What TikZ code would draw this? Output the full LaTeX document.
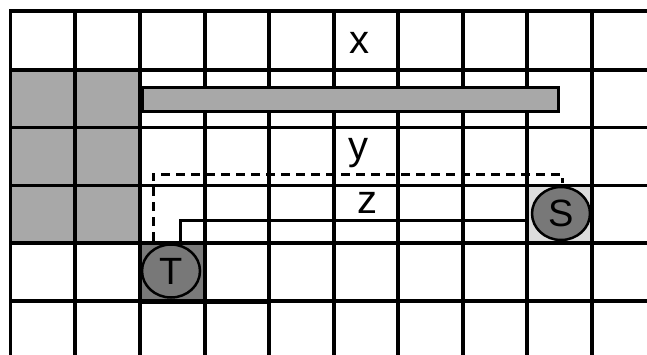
\documentclass[tikz,border=0pt]{standalone}
\usepackage{fontspec}
\setmainfont{Liberation Sans}
\usetikzlibrary{shapes.geometric}
\definecolor{wallgray}{HTML}{A8A8A8}
\definecolor{tokgray}{HTML}{787878}
\definecolor{cellT}{HTML}{7A7A7A}
\definecolor{cellS}{HTML}{DCDCDC}
\begin{document}
\begin{tikzpicture}[x=1pt,y=-1pt,
  gridline/.style={line width=3.5pt},
  token/.style={ellipse,draw,line width=2.5pt,fill=tokgray,minimum width=58pt,minimum height=53pt,inner sep=0pt,font=\fontsize{38}{44}\selectfont},
  lbl/.style={anchor=base,inner sep=0pt,font=\fontsize{40}{46}\selectfont},
  dashpath/.style={line width=3pt,dash pattern=on 9pt off 6pt},
  zpath/.style={line width=3pt}]
\useasboundingbox (0,0) rectangle (647,354);
% filled cells
\fill[wallgray] (10.5,70) rectangle (140,243);
\fill[cellT] (140,243) rectangle (205,301);
\fill[cellS] (527,185.5) rectangle (592,243);
% grid
\foreach \x in {10.5,75,140,205,269,334,398,463,527,592}
  \draw[gridline] (\x,9.5) -- (\x,360);
\foreach \y in {11,70,127.5,185.5,243,301}
  \draw[gridline] (9,\y) -- (660,\y);
\draw[line width=5pt] (138.5,301) -- (270,301);
% bar
\draw[fill=wallgray,line width=3pt] (142,87) rectangle (558,111);
% labels
\node[lbl] (lx) at (359,53) {x};
\node[lbl] (ly) at (358,159) {y};
\node[lbl] (lz) at (367,213) {z};
% paths
\coordinate (d1) at (153,241);
\coordinate (d2) at (562,183);
\draw[dashpath] (d1) -- (153,174) -- (562,174) -- (d2);
\coordinate (z1) at (180,243);
\coordinate (z2) at (527,220.5);
\draw[zpath] (z1) -- (180,220.5) -- (z2);
% tokens
\node[token] (T) at (171,271) {T};
\node[token] (S) at (561,213.5) {S};
\end{tikzpicture}
\end{document}
